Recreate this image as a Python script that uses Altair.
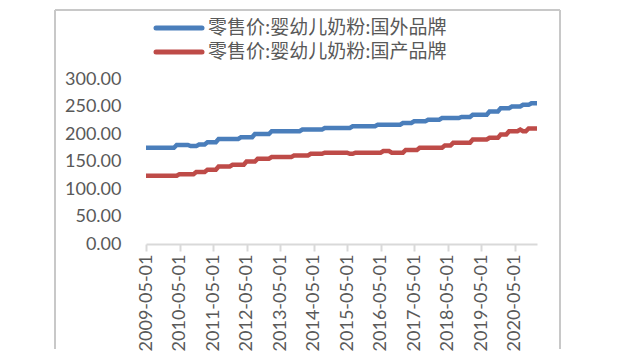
import altair as alt
import pandas as pd

# monthly categories 2009-05 .. 2021-01
months = [d.strftime("%Y-%m-%d") for d in pd.date_range("2009-05-01", periods=141, freq="MS")]
tick_labels = ["2009-05-01", "2010-05-01", "2011-05-01", "2012-05-01", "2013-05-01",
               "2014-05-01", "2015-05-01", "2016-05-01", "2017-05-01", "2018-05-01",
               "2019-05-01", "2020-05-01"]
y_ticks = [0, 50, 100, 150, 200, 250, 300]
series_names = ["零售价:婴幼儿奶粉:国外品牌", "零售价:婴幼儿奶粉:国产品牌"]
series_colors = ["#4A7EBB", "#BE4B48"]

foreign = [
    175, 175, 175, 175, 175, 175, 175, 175, 175, 175, 175, 180,
    180, 180, 180, 180, 178, 178, 178, 181, 181, 181, 185, 185,
    185, 185, 191, 191, 191, 191, 191, 191, 191, 191, 194, 194,
    194, 194, 194, 200, 200, 200, 200, 200, 200, 205, 205, 205,
    205, 205, 205, 205, 205, 205, 205, 205, 208, 208, 208, 208,
    208, 208, 208, 208, 211, 211, 211, 211, 211, 211, 211, 211,
    211, 211, 214, 214, 214, 214, 214, 214, 214, 214, 214, 217,
    217, 217, 217, 217, 217, 217, 217, 217, 220, 220, 220, 220,
    223, 223, 223, 223, 223, 226, 226, 226, 226, 226, 229, 229,
    229, 229, 229, 229, 229, 231, 231, 231, 231, 235, 235, 235,
    235, 235, 235, 241, 241, 241, 241, 247, 247, 247, 247, 250,
    250, 250, 250, 253, 253, 253, 256, 256, 256,
]
domestic = [
    124, 124, 124, 124, 124, 124, 124, 124, 124, 124, 124, 124,
    127, 127, 127, 127, 127, 127, 131, 131, 131, 131, 135, 135,
    135, 135, 141, 141, 141, 141, 141, 144, 144, 144, 144, 144,
    150, 150, 150, 150, 155, 155, 155, 155, 155, 158, 158, 158,
    158, 158, 158, 158, 158, 161, 161, 161, 161, 161, 161, 164,
    164, 164, 164, 164, 166, 166, 166, 166, 166, 166, 166, 166,
    166, 164, 164, 166, 166, 166, 166, 166, 166, 166, 166, 166,
    166, 169, 169, 169, 166, 166, 166, 166, 166, 171, 171, 171,
    171, 171, 175, 175, 175, 175, 175, 175, 175, 175, 175, 179,
    179, 179, 184, 184, 184, 184, 184, 184, 184, 190, 190, 190,
    190, 190, 190, 193, 193, 193, 193, 199, 199, 199, 205, 205,
    205, 205, 208, 205, 205, 210, 210, 210, 210,
]

df = pd.DataFrame({
    "month": months + months,
    "value": foreign + domestic,
    "series": [series_names[0]] * len(months) + [series_names[1]] * len(months),
})

axis_font = "Lato"
grey = "#595959"
tick_grey = "#d9d9d9"
frame_grey = "#c8c8c8"

lines = alt.Chart(df).mark_line(strokeWidth=4.5).encode(
    x=alt.X("month:O", title=None,
            scale=alt.Scale(type="point", padding=0),
            axis=alt.Axis(values=tick_labels, labelAngle=270, labelAlign="right",
                          labelBaseline="middle", labelFont=axis_font, labelFontSize=18,
                          labelColor=grey, labelPadding=3, tickSize=7, tickColor=tick_grey,
                          tickWidth=2, domainColor=tick_grey, domainWidth=2, grid=False,
                          labelOverlap=False)),
    y=alt.Y("value:Q", title=None,
            scale=alt.Scale(domain=[0, 300], nice=False, zero=True),
            axis=alt.Axis(values=y_ticks, format=".2f", labelFont=axis_font, labelFontSize=18,
                          labelColor=grey, labelPadding=25, tickSize=0, domain=False,
                          grid=False)),
    color=alt.Color("series:N",
                    scale=alt.Scale(domain=series_names, range=series_colors),
                    legend=None),
)

# outer frame edges (decoration)
frame_layers = [
    alt.Chart(pd.DataFrame({"c": ["l"]})).mark_rule(color=frame_grey, strokeWidth=2, clip=False).encode(
        x=alt.value(-91), y=alt.value(-69), y2=alt.value(270)),
    alt.Chart(pd.DataFrame({"c": ["r"]})).mark_rule(color=frame_grey, strokeWidth=2, clip=False).encode(
        x=alt.value(414), y=alt.value(-69), y2=alt.value(270)),
    alt.Chart(pd.DataFrame({"c": ["t"]})).mark_rule(color=frame_grey, strokeWidth=2, clip=False).encode(
        x=alt.value(-91), x2=alt.value(414), y=alt.value(-69)),
]

# manual legend
legend_layers = []
legend_rows = [-51, -27]
for name, col, yy in zip(series_names, series_colors, legend_rows):
    d = pd.DataFrame({"label": [name]})
    legend_layers.append(
        alt.Chart(d).mark_rule(color=col, strokeWidth=5, strokeCap="round", clip=False).encode(
            x=alt.value(10), x2=alt.value(56), y=alt.value(yy)))
    legend_layers.append(
        alt.Chart(d).mark_text(align="left", baseline="middle", font="Noto Sans CJK SC",
                               fontSize=19, color=grey, clip=False).encode(
            text="label:N", x=alt.value(62), y=alt.value(yy)))

chart = alt.layer(lines, *frame_layers, *legend_layers).properties(
    width=391, height=165,
    padding={"left": 138, "top": 71, "right": 95, "bottom": 107},
    autosize=alt.AutoSizeParams(type="none"),
).configure_view(stroke="transparent")

chart.save("out.html", embed_options={"renderer": "svg", "actions": False})
